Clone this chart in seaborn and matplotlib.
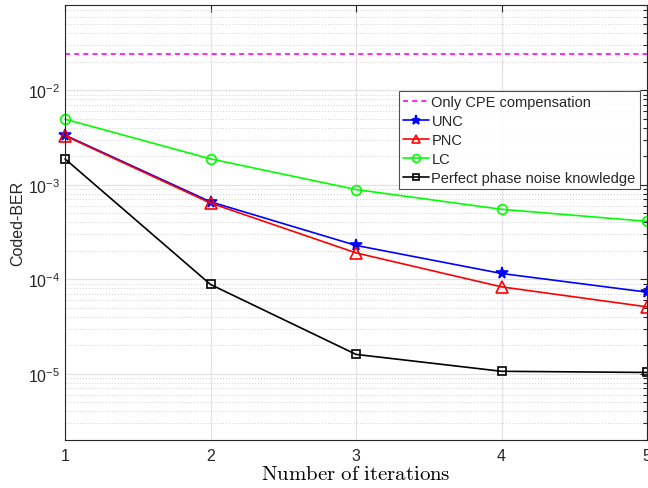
import numpy as np
import pandas as pd
import matplotlib
matplotlib.use("Agg")
import matplotlib.pyplot as plt
from matplotlib.ticker import LogLocator, NullFormatter, FixedLocator, FuncFormatter
import seaborn as sns

# Iteration counts on the x axis
iterations = [1, 2, 3, 4, 5]

# Coded BER for each receiver variant
ber_cpe_only = [2.43e-2, 2.43e-2, 2.43e-2, 2.43e-2, 2.43e-2]
ber_unc = [3.35e-3, 6.6e-4, 2.28e-4, 1.15e-4, 7.3e-5]
ber_pnc = [3.3e-3, 6.4e-4, 1.9e-4, 8.3e-5, 5.1e-5]
ber_lc = [4.95e-3, 1.88e-3, 8.9e-4, 5.5e-4, 4.1e-4]
ber_perfect = [1.88e-3, 8.8e-5, 1.6e-5, 1.06e-5, 1.03e-5]

series_names = ["Only CPE compensation", "UNC", "PNC", "LC",
                "Perfect phase noise knowledge"]

sns.set_style("white")
plt.rcParams["font.family"] = ["Liberation Sans", "DejaVu Sans"]
plt.rcParams["mathtext.fontset"] = "custom"
plt.rcParams["mathtext.rm"] = "Liberation Sans"
plt.rcParams["mathtext.it"] = "Liberation Sans:italic"
plt.rcParams["mathtext.bf"] = "Liberation Sans:bold"
plt.rcParams["mathtext.default"] = "rm"

fig = plt.figure(figsize=(6.48, 4.89), dpi=100)
ax = fig.add_axes([65 / 648, 1 - 440.7 / 489, 582 / 648, 434.7 / 489])

styles = {
    "Only CPE compensation": dict(color="#ff00ff", marker=None, linestyle=(0, (3, 2.5))),
    "UNC": dict(color="#0000ff", marker="*", linestyle="-"),
    "PNC": dict(color="#ff0000", marker="^", linestyle="-"),
    "LC": dict(color="#00ff00", marker="o", linestyle="-"),
    "Perfect phase noise knowledge": dict(color="#000000", marker="s", linestyle="-"),
}
marker_sizes = {"UNC": 8.5, "PNC": 8, "LC": 7, "Perfect phase noise knowledge": 5.5}

data = {
    "Only CPE compensation": ber_cpe_only,
    "UNC": ber_unc,
    "PNC": ber_pnc,
    "LC": ber_lc,
    "Perfect phase noise knowledge": ber_perfect,
}

for name in series_names:
    st = styles[name]
    df = pd.DataFrame({"iter": iterations, "ber": data[name]})
    kw = dict(color=st["color"], linestyle=st["linestyle"], linewidth=1.2,
              label=name, ax=ax, data=df, x="iter", y="ber", clip_on=False)
    if st["marker"] is not None:
        face = st["color"] if st["marker"] == "*" else "none"
        kw.update(marker=st["marker"], markersize=marker_sizes[name],
                  markerfacecolor=face, markeredgecolor=st["color"],
                  markeredgewidth=1.2)
    sns.lineplot(**kw)

ax.set_yscale("log")
ax.set_xlim(1, 5)
ax.set_ylim(2e-6, 8e-2)

ax.xaxis.set_major_locator(FixedLocator(iterations))
ax.yaxis.set_major_locator(LogLocator(base=10, numticks=10))
ax.yaxis.set_major_formatter(FuncFormatter(
    lambda v, p: r"$10^{%d}$" % int(round(np.log10(v)))))
ax.yaxis.set_minor_locator(LogLocator(base=10, subs=np.arange(2, 10), numticks=20))
ax.yaxis.set_minor_formatter(NullFormatter())

ax.grid(True, which="major", axis="both", color="#e3e3e3", linewidth=0.9, linestyle="-")
ax.grid(True, which="minor", axis="y", color="#d0d0d0", linewidth=0.7, linestyle=(0, (1, 2)))
ax.set_axisbelow(True)

ax.tick_params(axis="both", which="both", direction="in", top=True, right=True,
               colors="#262626", labelcolor="#262626", labelsize=11.5, width=0.8)
ax.tick_params(which="major", length=5)
ax.tick_params(which="minor", length=3)
ax.tick_params(axis="x", pad=6)
for sp in ax.spines.values():
    sp.set_color("#262626")
    sp.set_linewidth(0.8)

ax.set_ylabel("Coded-BER", fontsize=11.5, color="#262626", labelpad=2)
ax.set_xlabel(r"$\mathrm{Number\ of\ iterations}$", fontsize=15, color="#000000",
              labelpad=1, math_fontfamily="cm")

leg = ax.legend(loc="upper right", bbox_to_anchor=(0.988, 0.802), fontsize=10.5,
                frameon=True, fancybox=False, edgecolor="#262626",
                handlelength=1.8, handletextpad=0.15, borderpad=0.3,
                labelspacing=0.33, borderaxespad=0, markerscale=0.8)
leg.get_frame().set_linewidth(0.8)

fig.savefig("out.png", dpi=100)
